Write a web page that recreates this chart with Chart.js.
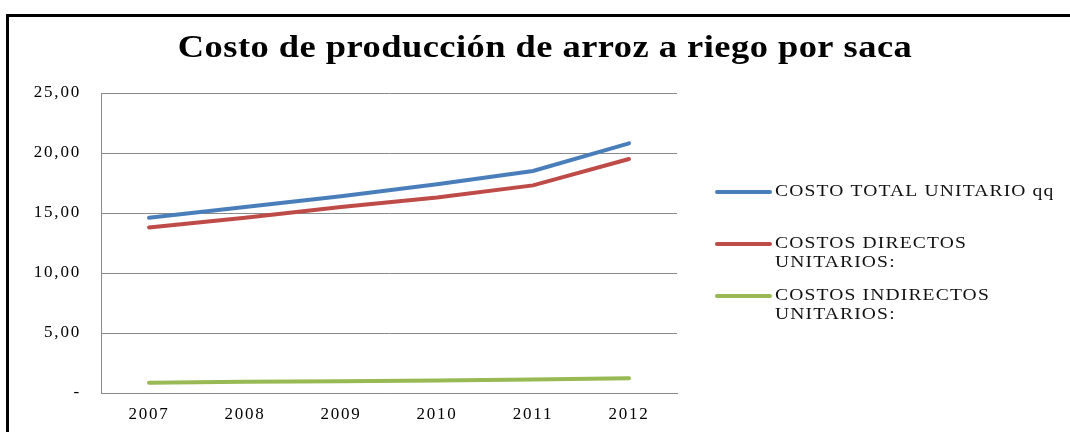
<!DOCTYPE html>
<html>
<head>
<meta charset="utf-8">
<script src="https://cdn.jsdelivr.net/npm/chart.js@4"></script>
<style>
    html, body { margin: 0; padding: 0; background: #fff; }
    .wrap { position: relative; width: 1070px; height: 432px; overflow: hidden; }
    .frame {
        position: absolute; left: 6px; top: 14px; width: 1200px; height: 600px;
        border-top: 3px solid #000; border-left: 3px solid #000;
    }
    canvas { position: absolute; left: 0; top: 0; }
</style>
</head>
<body>
<div class="wrap">
    <div class="frame"></div>
    <canvas id="chart" width="1070" height="432"></canvas>
</div>
<script>
// Data
const years = ['2007', '2008', '2009', '2010', '2011', '2012'];
const costoTotal = [14.6, 15.5, 16.4, 17.4, 18.5, 20.8];
const costosDirectos = [13.8, 14.6, 15.5, 16.3, 17.3, 19.5];
const costosIndirectos = [0.86, 0.93, 0.98, 1.05, 1.13, 1.22];
const yTickLabels = ['-', '5,00', '10,00', '15,00', '20,00', '25,00'];
const seriesLabels = [
    ['COSTO TOTAL UNITARIO qq'],
    ['COSTOS DIRECTOS', 'UNITARIOS:'],
    ['COSTOS INDIRECTOS', 'UNITARIOS:']
];
const seriesColors = ['#4a7ebb', '#be4b48', '#98b954'];
const titleText = 'Costo de producción de arroz a riego por saca';

const serif = '"Liberation Serif", "DejaVu Serif", serif';
const gridGray = '#8a8a8a';

// text in the original is stretched sideways, so draw it with a horizontal scale
function wideText(ctx, text, x, y, sx) {
    ctx.save();
    ctx.translate(x, y);
    ctx.scale(sx, 1);
    ctx.fillText(text, 0, 0);
    ctx.restore();
}

// Title and legend drawn by hand (Excel-like layout)
const excelDecor = {
    id: 'excelDecor',
    beforeDraw(chart) {
        chart.ctx.letterSpacing = '1.8px';
    },
    afterDraw(chart) {
        const ctx = chart.ctx;
        const area = chart.chartArea;
        ctx.save();
        ctx.fillStyle = '#000';
        ctx.font = 'bold 32px ' + serif;
        ctx.letterSpacing = '0.4px';
        ctx.textAlign = 'center';
        ctx.textBaseline = 'middle';
        wideText(ctx, titleText, 545, 49, 1.14);

        ctx.font = '17px ' + serif;
        ctx.letterSpacing = '1px';
        ctx.textAlign = 'left';
        const x0 = area.right + 40;
        let y = 192;
        chart.data.datasets.forEach((ds, i) => {
            ctx.strokeStyle = ds.borderColor;
            ctx.lineWidth = 4;
            ctx.lineCap = 'round';
            ctx.beginPath();
            ctx.moveTo(x0, y);
            ctx.lineTo(x0 + 53, y);
            ctx.stroke();
            ctx.fillStyle = '#111';
            seriesLabels[i].forEach((line, j) => {
                wideText(ctx, line, x0 + 58, y + j * 19, 1.15);
            });
            y += 52;
        });
        ctx.restore();
    }
};

function makeDataset(label, data, color) {
    return {
        label,
        data,
        borderColor: color,
        backgroundColor: color,
        borderWidth: 4,
        borderCapStyle: 'round',
        pointRadius: 0,
        tension: 0,
        fill: false
    };
}

new Chart(document.getElementById('chart'), {
    type: 'line',
    data: {
        labels: years,
        datasets: [
            makeDataset(seriesLabels[0].join(' '), costoTotal, seriesColors[0]),
            makeDataset(seriesLabels[1].join(' '), costosDirectos, seriesColors[1]),
            makeDataset(seriesLabels[2].join(' '), costosIndirectos, seriesColors[2])
        ]
    },
    options: {
        responsive: false,
        animation: false,
        layout: { padding: { top: 93, right: 393, left: 0, bottom: 0 } },
        plugins: {
            legend: { display: false },
            title: { display: false },
            tooltip: { enabled: false }
        },
        scales: {
            x: {
                offset: true,
                grid: { display: false, drawTicks: false },
                border: { display: true, color: gridGray, width: 1 },
                ticks: { color: '#000', font: { family: serif, size: 17 }, padding: 11, maxRotation: 0 },
                afterFit(scale) { scale.height = 39; }
            },
            y: {
                min: 0,
                max: 25,
                ticks: {
                    stepSize: 5,
                    color: '#000',
                    font: { family: serif, size: 17 },
                    padding: 20,
                    callback: (v, i) => yTickLabels[i]
                },
                grid: { color: gridGray, drawTicks: false },
                border: { display: true, color: gridGray, width: 1 },
                afterFit(scale) { scale.width = 101; }
            }
        }
    },
    plugins: [excelDecor]
});
</script>
</body>
</html>
